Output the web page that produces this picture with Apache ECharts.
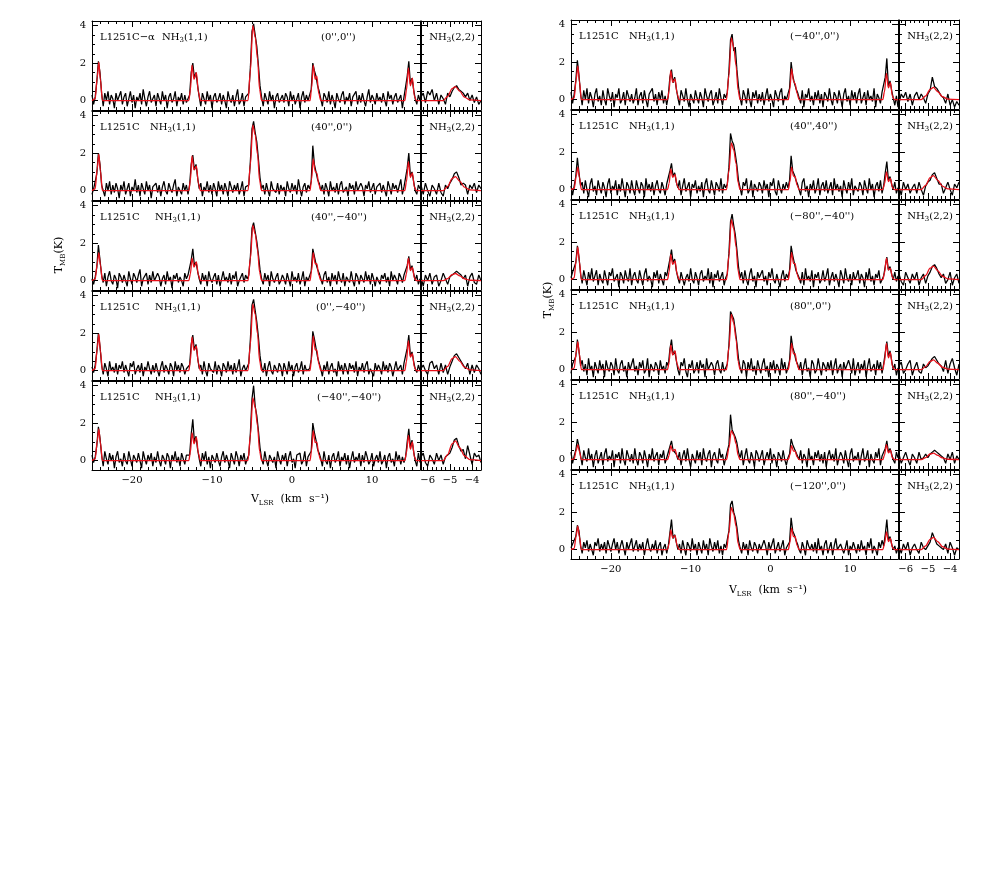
<!DOCTYPE html>
<html>
<head>
<meta charset="utf-8">
<script src="https://cdn.jsdelivr.net/npm/echarts@6/dist/echarts.min.js"></script>
<style>html,body{margin:0;background:#fff}#chart{width:981px;height:872px}</style>
</head>
<body>
<div id="chart"></div>
<script>
// channel grids (km/s)
const v11Start = -25, v11Step = 0.2;
const v22Start = -6.3, v22Step = 0.1;
const range11 = [-25, 16], range22 = [-6.3, -3.6], rangeT = [-0.5, 4.25];

// tick labels
const xLabels11 = [-20, -10, 0, 10];
const xLabels22 = [-6, -5, -4];
const yLabels = [0, 2, 4];

// nodes of the red hyperfine fits
const fitV11 = [-25, -24.6, -24.35, -24.15, -23.95, -23.7,
  -12.9, -12.7, -12.5, -12.25, -11.95, -11.7, -11.45,
  -5.5, -5.2, -4.9, -4.6, -4.3, -4.05, -3.8,
  2.25, 2.45, 2.65, 2.9, 3.1, 3.35, 3.6,
  14.1, 14.3, 14.55, 14.8, 15.05, 15.3, 15.55, 16];
const fitV22 = [-6.3, -5.3, -5.1, -4.9, -4.75, -4.55, -4.35, -4.1, -3.6];

const namesLeft = ['L1251C\u2212\u03b1', 'L1251C', 'L1251C', 'L1251C', 'L1251C'];
const namesRight = ['L1251C', 'L1251C', 'L1251C', 'L1251C', 'L1251C', 'L1251C'];
const offsetsLeft = ["(0'',0'')", "(40'',0'')", "(40'',\u221240'')", "(0'',\u221240'')", "(\u221240'',\u221240'')"];
const offsetsRight = ["(\u221240'',0'')", "(40'',40'')", "(\u221280'',\u221240'')", "(80'',0'')", "(80'',\u221240'')", "(\u2212120'',0'')"];

// NH3(1,1) spectra, tenths of K, 0.2 km/s channels from -25 (20 channels per row)
const specL1 = [3,-2,2,10,21, 15,4,-3,4,0, 5,-2,3,1,-4, 4,0,-1,5,-2,
  2,4,-3,1,5, -1,3,-4,2,0, 4,-2,6,1,-3, 2,5,-1,0,3,
  -3,4,1,-2,5, 0,3,-4,2,4, -1,1,5,-3,2, 0,4,-2,3,-1,
  1,3,15,20,12, 15,8,2,-3,4, 1,-2,5,0,3, -4,2,4,-1,1,
  4,-2,3,0,-4, 5,1,-1,3,-3, 2,6,-2,0,4, -3,2,1,4,18,
  37,41,35,29,19, 8,2,-3,4,1, -2,5,0,3,-4, 2,4,-1,0,3,
  -1,4,2,-3,5, 0,3,-2,1,4, -4,2,5,-1,3, 0,1,6,20,16,
  13,8,5,1,-3, 4,2,-1,5,-2, 3,0,-4,4,1, -1,3,5,-2,2,
  0,4,-3,2,1, 5,-2,3,-1,4, 0,-3,2,6,-1, 3,1,-2,4,0,
  2,-1,4,0,-3, 5,1,3,-2,2, 4,-1,0,3,-4, 2,3,13,21,9,
  12,6,1,-2,3,0];
const specL2 = [-2,1,2,9,20, 14,3,2,-3,4, 0,5,-2,3,-1, 4,1,-4,3,0,
  5,-2,1,4,-3, 2,0,6,-1,3, -3,4,1,-2,5, 0,3,-4,2,1,
  4,-1,3,-3,2, 5,0,-2,4,1, -1,3,6,-3,2, 1,-2,4,0,3,
  -2,3,14,19,11, 14,7,1,4,-3, 2,0,5,-1,3, -2,4,1,-3,5,
  0,3,-2,4,1, -3,5,2,-1,3, 0,4,-2,1,5, -3,2,1,3,16,
  33,37,31,26,17, 7,1,3,-2,4, 0,-3,5,1,2, -1,4,-2,3,0,
  2,-3,5,1,-1, 4,0,3,-2,6, 1,-3,2,4,-1, 3,1,5,24,14,
  10,6,4,0,3, -2,4,1,-3,5, 0,2,-1,4,-2, 3,5,-1,0,2,
  -3,4,1,3,-2, 5,0,-1,4,2, -3,3,1,5,-1, 0,4,-2,2,1,
  4,-1,3,0,-3, 5,2,-2,4,1, 3,-1,0,6,-2, 2,3,12,20,8,
  10,5,0,-2,3,1];
const specL3 = [1,-2,2,7,19, 11,3,-1,4,-3, 2,5,0,-2,3, 1,-4,4,2,-1,
  3,0,-3,5,1, -2,4,2,-1,3, 6,-3,1,0,4, -2,3,-1,5,0,
  -1,4,2,-3,1, 3,-2,5,0,2, -4,3,1,4,-1, 2,0,-3,4,1,
  3,2,11,17,8, 10,5,1,-2,4, 0,3,-3,5,1, -1,2,4,-2,3,
  -3,1,5,0,2, -1,4,-2,3,1, 5,-3,0,2,4, -1,3,1,3,13,
  28,31,26,21,14, 6,1,-2,4,0, 3,-3,5,1,-1, 2,4,-2,0,3,
  1,-2,4,3,-3, 5,0,2,-1,4, -2,1,5,-3,2, 0,1,5,17,13,
  9,6,4,1,-2, 3,5,-1,2,-3, 4,0,3,-2,5, 1,-1,4,-3,2,
  3,-1,5,0,-3, 4,2,-2,3,1, -1,5,0,3,-2, 4,1,-3,2,0,
  -2,3,1,4,-1, 2,-3,5,0,3, 1,-2,4,2,-1, 3,2,8,13,6,
  8,4,0,3,-2,1];
const specL4 = [2,-1,3,10,20, 13,3,-2,4,1, -3,5,0,2,-1, 4,-2,3,1,5,
  -1,3,0,-3,4, 2,5,-2,1,3, -1,4,-3,2,0, 5,1,-2,3,-1,
  4,0,-3,2,5, -1,3,1,-2,4, 2,-3,5,0,3, -1,4,2,-2,1,
  0,3,14,19,11, 14,7,1,3,-2, 5,0,-3,4,1, 2,-1,5,-2,3,
  1,-3,4,2,-1, 5,0,3,-2,4, -1,2,6,-3,1, 3,0,1,4,17,
  35,38,32,26,18, 8,2,-1,4,-3, 2,5,0,-2,3, 1,-1,4,2,-3,
  4,1,-2,5,0, 3,-3,2,4,-1, 1,5,-2,3,0, -1,1,6,21,17,
  12,7,4,1,-3, 3,0,5,-2,2, 4,-1,1,-3,5, 0,3,-2,4,1,
  -2,4,1,3,-1, 5,-3,2,0,4, -1,3,5,-2,1, 2,-3,4,0,3,
  1,-2,5,0,3, -1,4,2,-3,1, 5,0,-1,3,-2, 4,3,12,19,8,
  10,5,1,-1,3,0];
const specL5 = [3,-1,2,8,18, 12,3,-3,5,1, -2,4,0,3,-4, 2,5,-1,1,-3,
  4,0,-2,5,1, -3,3,2,-1,4, 0,-4,5,1,-2, 3,0,4,-3,2,
  -1,5,0,-3,3, 1,-2,4,2,-4, 3,0,5,-1,2, -3,4,1,-2,3,
  2,3,14,22,10, 13,6,1,-3,4, 0,5,-2,2,-4, 3,1,-1,4,0,
  -3,2,5,-1,3, 0,-4,4,1,-2, 5,2,-3,3,0, 4,-2,1,3,15,
  33,40,29,24,16, 7,1,-2,5,0, -3,3,4,-1,2, -4,5,1,-2,3,
  0,4,-3,2,5, -1,1,-4,3,2, 4,-2,0,5,-3, 2,1,5,20,15,
  11,6,4,1,-3, 5,0,-2,3,-4, 2,4,-1,1,5, -3,2,0,4,-2,
  3,-4,1,5,-1, 2,0,4,-3,3, -1,5,2,-2,0, 4,-3,1,3,-1,
  5,-2,0,3,-4, 2,4,-1,1,-3, 5,0,3,-2,2, -1,2,10,17,7,
  11,5,0,-3,4,-1];
const specR1 = [4,-2,3,10,21, 13,3,-3,5,0, 6,-2,4,1,-4, 3,6,-1,2,-3,
  5,0,-3,6,2, -1,4,-4,3,1, 6,-2,0,4,-3, 5,2,-1,3,-2,
  1,6,-3,2,4, -2,5,0,-4,3, 2,6,-1,3,-3, 4,0,5,-2,2,
  -3,2,12,16,9, 12,6,1,-3,5, 2,-1,6,0,-4, 3,4,-2,5,1,
  -2,4,1,-4,6, 2,-1,3,5,-3, 0,4,-2,6,1, -3,3,1,4,15,
  32,35,26,28,16, 7,1,-3,5,2, -2,6,0,-4,4, 1,5,-2,3,-1,
  4,-3,2,6,-1, 3,0,-4,5,2, -1,4,6,-3,2, 0,1,6,20,13,
  9,6,4,1,-2, 5,-4,3,1,6, -1,2,-3,4,0, 5,-2,3,-4,4,
  2,-1,6,0,-3, 4,2,-2,5,1, -4,3,6,-1,2, -3,5,0,4,-2,
  3,6,-2,1,4, -3,5,0,2,-1, 6,-4,3,1,-2, 4,3,12,22,7,
  10,5,1,-3,2,-4];
const specR2 = [2,-3,2,7,17, 9,2,4,-2,5, 0,-4,3,6,-1, 2,-3,5,1,-2,
  4,1,-4,3,6, -2,2,0,5,-3, 3,-1,6,1,-4, 4,2,-2,5,0,
  -3,5,1,-2,4, 2,-4,6,0,3, -1,4,-3,2,5, 0,-2,4,1,-3,
  3,2,10,14,7, 9,4,1,5,-3, 2,6,-1,0,4, -4,3,1,5,-2,
  2,-1,4,-4,3, 6,0,-2,5,1, -3,4,2,-1,6, -2,3,1,3,12,
  30,26,24,19,13, 5,1,-3,4,2, 6,-2,0,5,-4, 3,1,-1,4,2,
  -2,5,0,3,-4, 4,2,6,-1,-3, 5,1,-2,3,0, 4,1,5,18,10,
  8,5,3,0,-3, 4,6,-1,2,-4, 3,0,5,-2,1, 6,-3,2,4,-1,
  5,-2,1,4,-3, 6,0,3,-1,2, -4,5,1,-2,4, 0,6,-3,2,1,
  -1,4,2,-3,5, 1,-2,6,0,3, -4,2,4,-1,5, -2,2,9,15,5,
  7,3,0,4,-2,1];
const specR3 = [1,4,3,9,18, 12,3,-2,5,1, -3,4,0,6,-1, 2,5,-3,3,0,
  -2,5,1,-3,4, 2,6,-1,0,3, -4,4,2,-2,5, 1,-1,6,-3,2,
  4,0,-2,5,1, -3,3,6,-1,2, 0,-4,4,1,5, -2,3,0,-3,4,
  2,2,11,16,9, 11,5,1,-2,4, 5,-3,1,3,-1, 6,0,-2,4,1,
  -3,3,5,-1,2, 0,6,-2,4,-4, 3,1,5,-1,0, 4,-3,1,3,14,
  31,35,29,24,16, 7,1,4,-2,5, 0,-3,3,6,-1, 2,-4,4,1,3,
  5,-1,2,-3,4, 1,6,0,-2,3, 4,-4,2,5,-1, 3,1,5,18,13,
  9,5,3,1,-2, 4,-3,6,0,2, -1,5,-4,3,1, 4,-2,0,5,-1,
  2,6,-3,1,4, -1,3,0,-4,5, 2,-2,6,1,-1, 3,-3,4,0,2,
  5,-2,3,1,-4, 4,0,6,-1,2, -3,3,1,5,-2, 0,2,7,12,5,
  7,3,0,4,-1,2];
const specR4 = [-2,3,2,7,16, 10,2,5,-1,3, -3,6,0,2,-4, 4,1,-2,5,0,
  3,-4,5,1,-1, 4,2,-3,6,0, -2,3,5,-1,2, -4,4,0,3,6,
  -1,2,-3,4,1, 5,-2,0,6,-4, 3,1,-1,4,2, -3,5,0,2,-2,
  4,2,11,16,8, 10,5,0,-3,4, 2,6,-1,-4,3, 1,5,-2,0,4,
  -2,5,1,3,-4, 6,0,-1,4,2, -3,3,5,0,-2, 4,-1,1,3,13,
  31,29,27,21,14, 6,1,-2,5,3, -4,4,0,6,-1, 2,-3,5,1,-2,
  3,6,-1,2,-4, 4,0,5,-2,3, 1,-3,6,0,4, -2,1,5,18,12,
  9,5,3,0,4, -3,2,6,-1,1, -4,5,3,-2,0, 6,1,-3,4,2,
  -1,4,0,5,-3, 2,6,-2,1,3, -4,4,0,-1,5, 2,-2,6,-3,1,
  4,-2,3,0,5, -4,2,6,-1,1, 3,-3,5,0,4, -2,3,9,15,7,
  10,5,0,3,-3,1];
const specR5 = [4,-2,2,5,11, 7,2,-3,5,1, -1,6,0,3,-4, 2,5,-2,1,4,
  -3,3,6,-1,2, 0,5,-4,3,1, 4,-2,6,0,-3, 5,2,-1,3,-2,
  6,0,-3,4,2, -2,5,1,-4,3, 0,6,-1,2,4, -3,3,1,5,-2,
  1,2,7,10,5, 6,3,0,4,-3, 2,5,-1,6,0, -4,3,2,-2,5,
  0,4,-3,6,1, -1,3,5,-4,2, 4,0,-2,6,1, 3,-3,1,2,8,
  24,16,15,12,9, 4,1,5,-3,2, 6,0,-2,4,1, -4,5,3,-1,2,
  5,-3,1,4,0, 6,-2,3,1,-4, 4,2,-1,5,0, -3,1,3,11,8,
  6,4,2,0,5, -2,3,1,-4,6, 0,2,-3,4,1, 5,-1,3,-2,4,
  -4,2,5,0,3, -1,6,-3,1,4, 2,-2,5,0,-4, 3,6,-1,2,0,
  4,-3,2,6,-1, 1,5,-4,3,0, -2,4,1,6,-3, 2,2,6,10,4,
  6,3,0,-2,4,1];
const specR6 = [1,3,2,7,13, 10,2,-2,4,1, 5,-1,3,0,-3, 4,2,6,-1,3,
  0,4,-2,5,2, -1,3,6,0,4, -2,2,5,1,-3, 4,0,3,6,-1,
  2,5,-1,3,0, 4,-3,2,6,1, -1,3,0,5,-2, 2,4,-3,1,3,
  -2,2,9,16,6, 8,4,0,3,-2, 5,1,-3,4,2, -1,6,0,3,-3,
  4,1,-2,5,0, 3,-3,6,2,-1, 4,0,5,-2,2, -3,3,1,2,10,
  24,26,20,17,12, 5,1,-2,4,0, 3,-3,5,1,-1, 4,2,-2,3,0,
  -1,5,2,-3,4, 0,3,6,-2,1, 4,-1,2,5,-3, 1,1,4,17,10,
  8,5,3,0,-2, 4,1,-3,5,2, 0,3,-1,4,-2, 6,0,2,-3,3,
  5,-2,1,4,-3, 2,6,0,-1,3, 4,-2,1,5,-3, 2,0,4,1,-2,
  3,-1,5,0,2, -3,4,1,6,-2, 2,0,-3,4,1, 5,2,8,16,5,
  7,3,0,2,-2,1];

// NH3(2,2) spectra, tenths of K, 0.1 km/s channels from -6.3
const s22L1 = [2,4,-1,5,3, 6,0,4,-2,3, 1,-2,4,2,5, 7,8,6,5,4, 2,4,0,3,-1, 2,-2,0];
const s22L2 = [3,-2,4,0,-3, 3,1,-2,4,-1, -3,3,1,4,6, 9,10,7,3,4, 3,-2,3,1,4, -1,3,1];
const s22L3 = [2,-3,3,0,4, -2,2,3,-3,0, 4,1,-2,2,3, 4,5,4,3,1, 3,-3,2,4,-1, -2,3,0];
const s22L4 = [1,3,0,-2,4, 5,1,3,-2,4, -1,3,-2,2,5, 8,9,7,5,3, 1,4,-2,3,-1, 3,1,-2];
const s22L5 = [2,4,-1,-3,3, 1,-2,4,0,3, -2,2,3,4,7, 11,12,8,5,6, 1,8,3,-2,4, 2,3,-1];
const s22R1 = [-2,3,1,4,-1, 3,-3,2,4,0, 3,1,-2,3,5, 12,7,6,4,2, 1,-2,3,-3,0, -4,-1,-3];
const s22R2 = [2,-3,4,0,3, -2,1,3,-2,4, 0,-3,2,4,5, 8,9,6,3,3, -2,1,4,0,-3, 3,1,4];
const s22R3 = [3,-1,-3,4,1, -2,3,0,4,-3, 1,3,-2,2,4, 7,8,6,3,1, 3,-2,0,4,-3, 1,3,-2];
const s22R4 = [2,4,-2,0,3, 5,-3,1,4,-1, -2,3,1,2,4, 6,7,5,3,2, -1,5,-2,3,6, 1,-3,3];
const s22R5 = [3,-2,1,4,0, -3,3,1,-2,4, 0,1,3,1,3, 4,5,4,3,2, 1,-2,3,0,4, -2,2,0];
const s22R6 = [2,-2,3,0,4, -3,1,3,0,-2, 4,1,0,2,4, 9,6,3,2,1, 0,3,-2,4,1, -3,1,0];

// red fits, K, at fitV11 / fitV22
const fitL1 = [0,0.1,1.23,2.05,1.13,0, 0,0.57,1.9,1.14,1.5,0.45,0, 0,1.6,4.0,3.4,2.2,0.6,0, 0,0.67,1.9,1.14,1.3,0.38,0, 0,0.53,1.75,0.79,1.2,0.24,0,0];
const fitL2 = [0,0.1,1.17,1.95,1.07,0, 0,0.56,1.85,1.11,1.3,0.39,0, 0,1.4,3.5,2.98,1.93,0.53,0, 0,0.6,1.7,1.02,0.95,0.34,0, 0,0.47,1.55,0.7,0.95,0.19,0,0];
const fitL3 = [0,0.08,0.9,1.5,0.83,0, 0,0.36,1.2,0.72,1.0,0.3,0, 0,1.18,2.95,2.5,1.62,0.44,0, 0,0.53,1.5,0.9,0.9,0.3,0, 0,0.36,1.2,0.54,0.7,0.14,0,0];
const fitL4 = [0,0.1,1.17,1.95,1.07,0, 0,0.54,1.8,1.08,1.3,0.39,0, 0,1.42,3.55,3.02,1.95,0.53,0, 0,0.65,1.85,1.11,1.1,0.37,0, 0,0.48,1.6,0.72,0.9,0.18,0,0];
const fitL5 = [0,0.09,1.02,1.7,0.94,0, 0,0.45,1.5,0.9,1.25,0.38,0, 0,1.34,3.35,2.85,1.84,0.5,0, 0,0.56,1.6,0.96,1.0,0.32,0, 0,0.41,1.35,0.61,1.0,0.2,0,0];
const fitR1 = [0,0.09,1.08,1.8,0.99,0, 0,0.47,1.55,0.93,1.1,0.33,0, 0,1.32,3.3,2.8,1.82,0.5,0, 0,0.58,1.65,0.99,0.85,0.33,0, 0,0.42,1.4,0.63,0.9,0.18,0,0];
const fitR2 = [0,0.06,0.72,1.2,0.66,0, 0,0.33,1.1,0.66,0.8,0.24,0, 0,1.0,2.5,2.13,1.38,0.38,0, 0,0.42,1.2,0.72,0.7,0.24,0, 0,0.29,0.95,0.43,0.6,0.12,0,0];
const fitR3 = [0,0.09,1.05,1.75,0.96,0, 0,0.41,1.35,0.81,1.0,0.3,0, 0,1.28,3.2,2.72,1.76,0.48,0, 0,0.51,1.45,0.87,0.85,0.29,0, 0,0.35,1.15,0.52,0.6,0.12,0,0];
const fitR4 = [0,0.08,0.9,1.5,0.83,0, 0,0.39,1.3,0.78,1.0,0.3,0, 0,1.18,2.95,2.5,1.62,0.44,0, 0,0.49,1.4,0.84,0.85,0.28,0, 0,0.42,1.4,0.63,0.9,0.18,0,0];
const fitR5 = [0,0.04,0.48,0.8,0.44,0, 0,0.23,0.75,0.45,0.55,0.17,0, 0,0.62,1.55,1.32,0.85,0.23,0, 0,0.26,0.75,0.45,0.45,0.15,0, 0,0.24,0.8,0.36,0.5,0.1,0,0];
const fitR6 = [0,0.06,0.75,1.25,0.69,0, 0,0.32,1.05,0.63,0.75,0.23,0, 0,0.9,2.25,1.91,1.24,0.34,0, 0,0.4,1.15,0.69,0.7,0.23,0, 0,0.29,0.95,0.43,0.6,0.12,0,0];
const f22L1 = [0,0,0.23,0.64,0.75,0.49,0.19,0.04,0];
const f22L2 = [0,0,0.23,0.64,0.75,0.49,0.19,0.04,0];
const f22L3 = [0,0,0.11,0.32,0.38,0.25,0.1,0.02,0];
const f22L4 = [0,0,0.23,0.64,0.75,0.49,0.19,0.04,0];
const f22L5 = [0,0,0.32,0.89,1.05,0.68,0.26,0.05,0];
const f22R1 = [0,0,0.2,0.55,0.65,0.42,0.16,0.03,0];
const f22R2 = [0,0,0.23,0.64,0.75,0.49,0.19,0.04,0];
const f22R3 = [0,0,0.22,0.61,0.72,0.47,0.18,0.04,0];
const f22R4 = [0,0,0.16,0.44,0.52,0.34,0.13,0.03,0];
const f22R5 = [0,0,0.11,0.3,0.35,0.23,0.09,0.02,0];
const f22R6 = [0,0,0.2,0.55,0.65,0.42,0.16,0.03,0];

// layout (px)
const nh3XLeft = [162, 150, 155, 155, 155], offXLeft = [321, 311, 311, 316, 317];
const nh3XRight = [629, 629, 629, 629, 629, 629], offXRight = [790, 790, 790, 790, 790, 790];
const FONT = '"DejaVu Serif", "Liberation Serif", serif';

const figs = [
  {left: 92, top: 21, mainW: 328, w22: 60, h: 89, names: namesLeft, offs: offsetsLeft, nhX: nh3XLeft, offX: offXLeft,
   spec: [specL1, specL2, specL3, specL4, specL5], fit: [fitL1, fitL2, fitL3, fitL4, fitL5],
   s22: [s22L1, s22L2, s22L3, s22L4, s22L5], f22: [f22L1, f22L2, f22L3, f22L4, f22L5],
   yTitle: [59, 255], xTitle: [290, 499]},
  {left: 571, top: 20, mainW: 327, w22: 60, h: 89, names: namesRight, offs: offsetsRight, nhX: nh3XRight, offX: offXRight,
   spec: [specR1, specR2, specR3, specR4, specR5, specR6], fit: [fitR1, fitR2, fitR3, fitR4, fitR5, fitR6],
   s22: [s22R1, s22R2, s22R3, s22R4, s22R5, s22R6], f22: [f22R1, f22R2, f22R3, f22R4, f22R5, f22R6],
   yTitle: [548, 300], xTitle: [768, 590]}
];

function steps(a, b, d) {
  const out = [];
  for (let k = 0; a + k * d <= b + 1e-9; k++) out.push(+(a + k * d).toFixed(3));
  return out;
}
const xMinor11 = steps(-25, 16, 1), xMinor22 = steps(-6.2, -3.6, 0.2), yMinor = steps(-0.5, 4.25, 0.5);
const fmt = v => String(v).replace('-', '\u2212');

const grid = [], xAxis = [], yAxis = [], series = [], graphic = [];

function axis(gi, pos, range, ticks, len, labels, line) {
  const isX = pos === 'top' || pos === 'bottom';
  return {
    type: 'value', gridIndex: gi, position: pos, min: range[0], max: range[1],
    axisLine: {show: line, onZero: false, lineStyle: {color: '#000', width: 1}},
    axisTick: {show: true, inside: true, length: len, customValues: ticks, lineStyle: {color: '#000', width: 1}},
    axisLabel: labels ? {show: true, customValues: labels, formatter: fmt, margin: isX ? 5 : 6,
      fontSize: 10, color: '#000', fontFamily: FONT} : {show: false},
    splitLine: {show: false}
  };
}

function addPanel(left, top, width, height, xr, xMaj, xMin, bottomLabels, showY) {
  const gi = grid.length;
  grid.push({left, top, width, height, containLabel: false, outerBoundsMode: 'none'});
  const xi = xAxis.length, yi = yAxis.length;
  xAxis.push(axis(gi, 'bottom', xr, xMaj, 6, bottomLabels, true));
  xAxis.push(axis(gi, 'bottom', xr, xMin, 3, null, false));
  xAxis.push(axis(gi, 'top', xr, xMaj, 6, null, true));
  xAxis.push(axis(gi, 'top', xr, xMin, 3, null, false));
  yAxis.push(axis(gi, 'left', rangeT, yLabels, 6, showY ? yLabels : null, true));
  yAxis.push(axis(gi, 'left', rangeT, yMinor, 3, null, false));
  yAxis.push(axis(gi, 'right', rangeT, yLabels, 6, null, true));
  yAxis.push(axis(gi, 'right', rangeT, yMinor, 3, null, false));
  return {xi, yi};
}

function line(ax, data, color, width, smooth) {
  series.push({
    type: 'line', xAxisIndex: ax.xi, yAxisIndex: ax.yi, data,
    symbol: 'none', showSymbol: false, smooth: smooth ? 0.3 : false, smoothMonotone: 'x',
    lineStyle: {color, width}, itemStyle: {color}, animation: false, silent: true, clip: true
  });
}

const RICH = {
  s: {fontFamily: FONT, fontSize: 7, fill: '#000', verticalAlign: 'bottom', lineHeight: 8}
};
function text(x, y, str, extra) {
  graphic.push({
    type: 'text', x, y, silent: true, z: 100,
    style: Object.assign({text: str, fill: '#000', fontFamily: FONT, fontSize: 10, lineHeight: 14,
      align: 'left', verticalAlign: 'middle', rich: RICH}, extra || {})
  });
}

figs.forEach(f => {
  const n = f.spec.length;
  for (let k = 0; k < n; k++) {
    const top = f.top + k * (f.h + 1);
    const last = k === n - 1;
    const a = addPanel(f.left, top, f.mainW, f.h, range11, xLabels11, xMinor11, last ? xLabels11 : null, true);
    const b = addPanel(f.left + f.mainW + 1, top, f.w22, f.h, range22, xLabels22, xMinor22, last ? xLabels22 : null, false);
    line(a, f.spec[k].map((t, i) => [v11Start + i * v11Step, t / 10]), '#000', 1.25, false);
    line(a, fitV11.map((v, i) => [v, f.fit[k][i]]), '#e8101a', 1.3, true);
    line(b, f.s22[k].map((t, i) => [v22Start + i * v22Step, t / 10]), '#000', 1.25, false);
    line(b, fitV22.map((v, i) => [v, f.f22[k][i]]), '#e8101a', 1.3, true);
    const ty = top + 16;
    text(f.left + 8, ty, f.names[k]);
    text(f.nhX[k], ty, 'NH{s|3}(1,1)');
    text(f.offX[k], ty, f.offs[k]);
    text(f.left + f.mainW + 1 + f.w22 - 6, ty, 'NH{s|3}(2,2)', {align: 'right'});
  }
  graphic.push({
    type: 'text', x: f.yTitle[0], y: f.yTitle[1], rotation: Math.PI / 2, silent: true,
    style: {text: 'T{s|MB}(K)', fill: '#000', fontFamily: FONT, fontSize: 11, lineHeight: 15,
      align: 'center', verticalAlign: 'middle', rich: RICH}
  });
  graphic.push({
    type: 'text', x: f.xTitle[0], y: f.xTitle[1], silent: true,
    style: {text: 'V{s|LSR}  (km  s\u207b\u00b9)', fill: '#000', fontFamily: FONT, fontSize: 11, lineHeight: 15,
      align: 'center', verticalAlign: 'middle', rich: RICH}
  });
});

const chart = echarts.init(document.getElementById('chart'), null, {renderer: 'canvas'});
chart.setOption({
  backgroundColor: '#fff',
  animation: false,
  grid, xAxis, yAxis, series, graphic
});
</script>
</body>
</html>
